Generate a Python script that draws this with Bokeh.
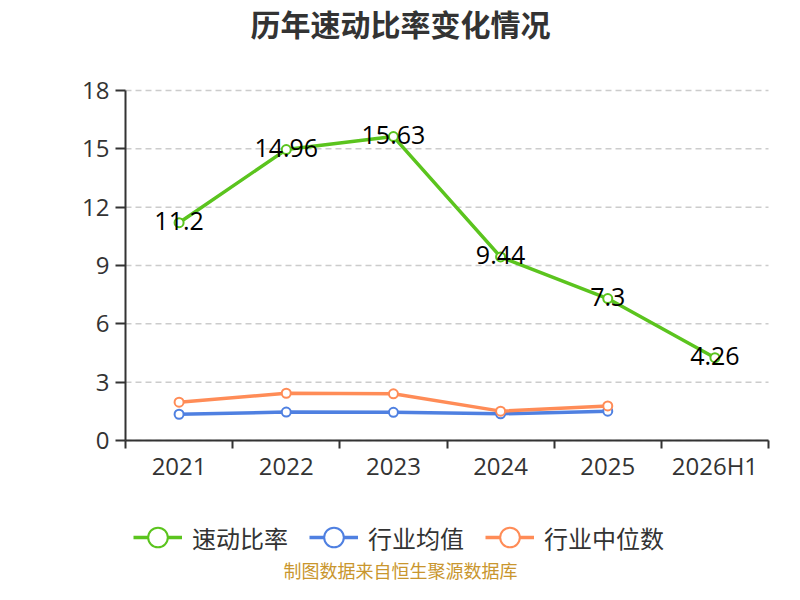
from bokeh.plotting import figure
from bokeh.models import (Range1d, LinearAxis, FixedTicker, Label,
                          ColumnDataSource, Legend, LegendItem)
from bokeh.core.properties import value
from bokeh.embed import file_html
from bokeh.resources import INLINE

categories = ["2021", "2022", "2023", "2024", "2025", "2026H1"]
quick_ratio = [11.2, 14.96, 15.63, 9.44, 7.3, 4.26]
industry_avg = [1.35, 1.46, 1.45, 1.37, 1.51]
industry_median = [1.97, 2.43, 2.40, 1.51, 1.78]
y_ticks = [0, 3, 6, 9, 12, 15, 18]
series_names = ["速动比率", "行业均值", "行业中位数"]
title_text = "历年速动比率变化情况"
source_text = "制图数据来自恒生聚源数据库"

GREEN = "#5BC41E"
BLUE = "#4F80E1"
ORANGE = "#FF8C57"
AXIS = "#333333"
CJK = "Noto Sans CJK SC"
NUM = "Open Sans"

# canvas size and plotting-area box (pixels from top-left)
W, H = 784, 584
FL, FR, FT, FB = 125, 768, 90, 440

n = len(categories)
y_max = y_ticks[-1]
centres = [i + 0.5 for i in range(n)]
edges = list(range(n + 1))

# ranges chosen so that the whole canvas is the frame and the data box sits at FL..FR / FT..FB
ux = (FR - FL) / n
uy = (FB - FT) / y_max
p = figure(width=W, height=H,
           x_range=Range1d(-FL / ux, (W - FL) / ux),
           y_range=Range1d(-(H - FB) / uy, y_max + FT / uy),
           x_axis_type=None, y_axis_type=None,
           output_backend="svg", toolbar_location=None,
           min_border=0, min_border_left=0, min_border_right=0,
           min_border_top=0, min_border_bottom=0)
p.outline_line_color = None
p.background_fill_color = "white"
p.border_fill_color = "white"
p.xgrid.visible = False
p.ygrid.visible = False

# horizontal dashed grid lines over the data box
p.segment(x0=0, x1=n, y0=y_ticks, y1=y_ticks, line_color="#cccccc",
          line_width=1.5, line_dash="6 4", level="underlay")

yaxis = LinearAxis(fixed_location=0, bounds=(0, y_max),
                   ticker=FixedTicker(ticks=y_ticks),
                   axis_line_color=AXIS, axis_line_width=2,
                   major_tick_line_color=AXIS, major_tick_line_width=2,
                   major_tick_out=10, major_tick_in=0,
                   minor_tick_line_color=None,
                   major_label_text_font_size="24px",
                   major_label_text_color=AXIS,
                   major_label_text_font=NUM,
                   major_label_standoff=6)
p.add_layout(yaxis, "left")

xaxis = LinearAxis(fixed_location=0, bounds=(0, n),
                   ticker=FixedTicker(ticks=centres, minor_ticks=edges),
                   major_label_overrides={c: lab for c, lab in zip(centres, categories)},
                   axis_line_color=AXIS, axis_line_width=2,
                   major_tick_line_color=None, major_tick_out=8, major_tick_in=0,
                   minor_tick_line_color=AXIS, minor_tick_line_width=2,
                   minor_tick_out=8, minor_tick_in=0,
                   major_label_text_font_size="24px",
                   major_label_text_color=AXIS,
                   major_label_text_font=NUM,
                   major_label_standoff=0)
p.add_layout(xaxis, "below")

src_avg = ColumnDataSource(dict(x=centres[:len(industry_avg)], y=industry_avg))
src_med = ColumnDataSource(dict(x=centres[:len(industry_median)], y=industry_median))
src_q = ColumnDataSource(dict(x=centres, y=quick_ratio,
                              label=[str(v) for v in quick_ratio]))

r1l = p.line("x", "y", source=src_q, line_color=GREEN, line_width=3.5)
r1s = p.scatter("x", "y", source=src_q, size=9, fill_color="white",
                line_color=GREEN, line_width=2)
r2l = p.line("x", "y", source=src_avg, line_color=BLUE, line_width=3.5)
r2s = p.scatter("x", "y", source=src_avg, size=9, fill_color="white",
                line_color=BLUE, line_width=2)
r3l = p.line("x", "y", source=src_med, line_color=ORANGE, line_width=3.5)
r3s = p.scatter("x", "y", source=src_med, size=9, fill_color="white",
                line_color=ORANGE, line_width=2)

p.text("x", "y", text="label", source=src_q, text_align="center",
       text_baseline="middle", text_font_size="25px", text_color="black",
       text_font=value(NUM), y_offset=-2)

legend = Legend(items=[LegendItem(label=series_names[0], renderers=[r1l, r1s]),
                       LegendItem(label=series_names[1], renderers=[r2l, r2s]),
                       LegendItem(label=series_names[2], renderers=[r3l, r3s])],
                orientation="horizontal", location=(133, 22),
                glyph_width=49, glyph_height=50, label_standoff=10, spacing=21,
                padding=0, margin=0, border_line_color=None,
                background_fill_color=None,
                label_text_font_size="24px", label_text_color=AXIS,
                label_text_font=CJK)
p.add_layout(legend)

p.add_layout(Label(x=400, y=H - 22, x_units="screen", y_units="screen", text=title_text,
                   text_align="center", text_baseline="middle",
                   text_font_size="30px", text_font_style="bold",
                   text_color=AXIS, text_font=CJK))
p.add_layout(Label(x=400, y=15, x_units="screen", y_units="screen", text=source_text,
                   text_align="center", text_baseline="middle",
                   text_font_size="18px", text_color="#C9962E", text_font=CJK))

open("out.html", "w").write(file_html(p, INLINE))
